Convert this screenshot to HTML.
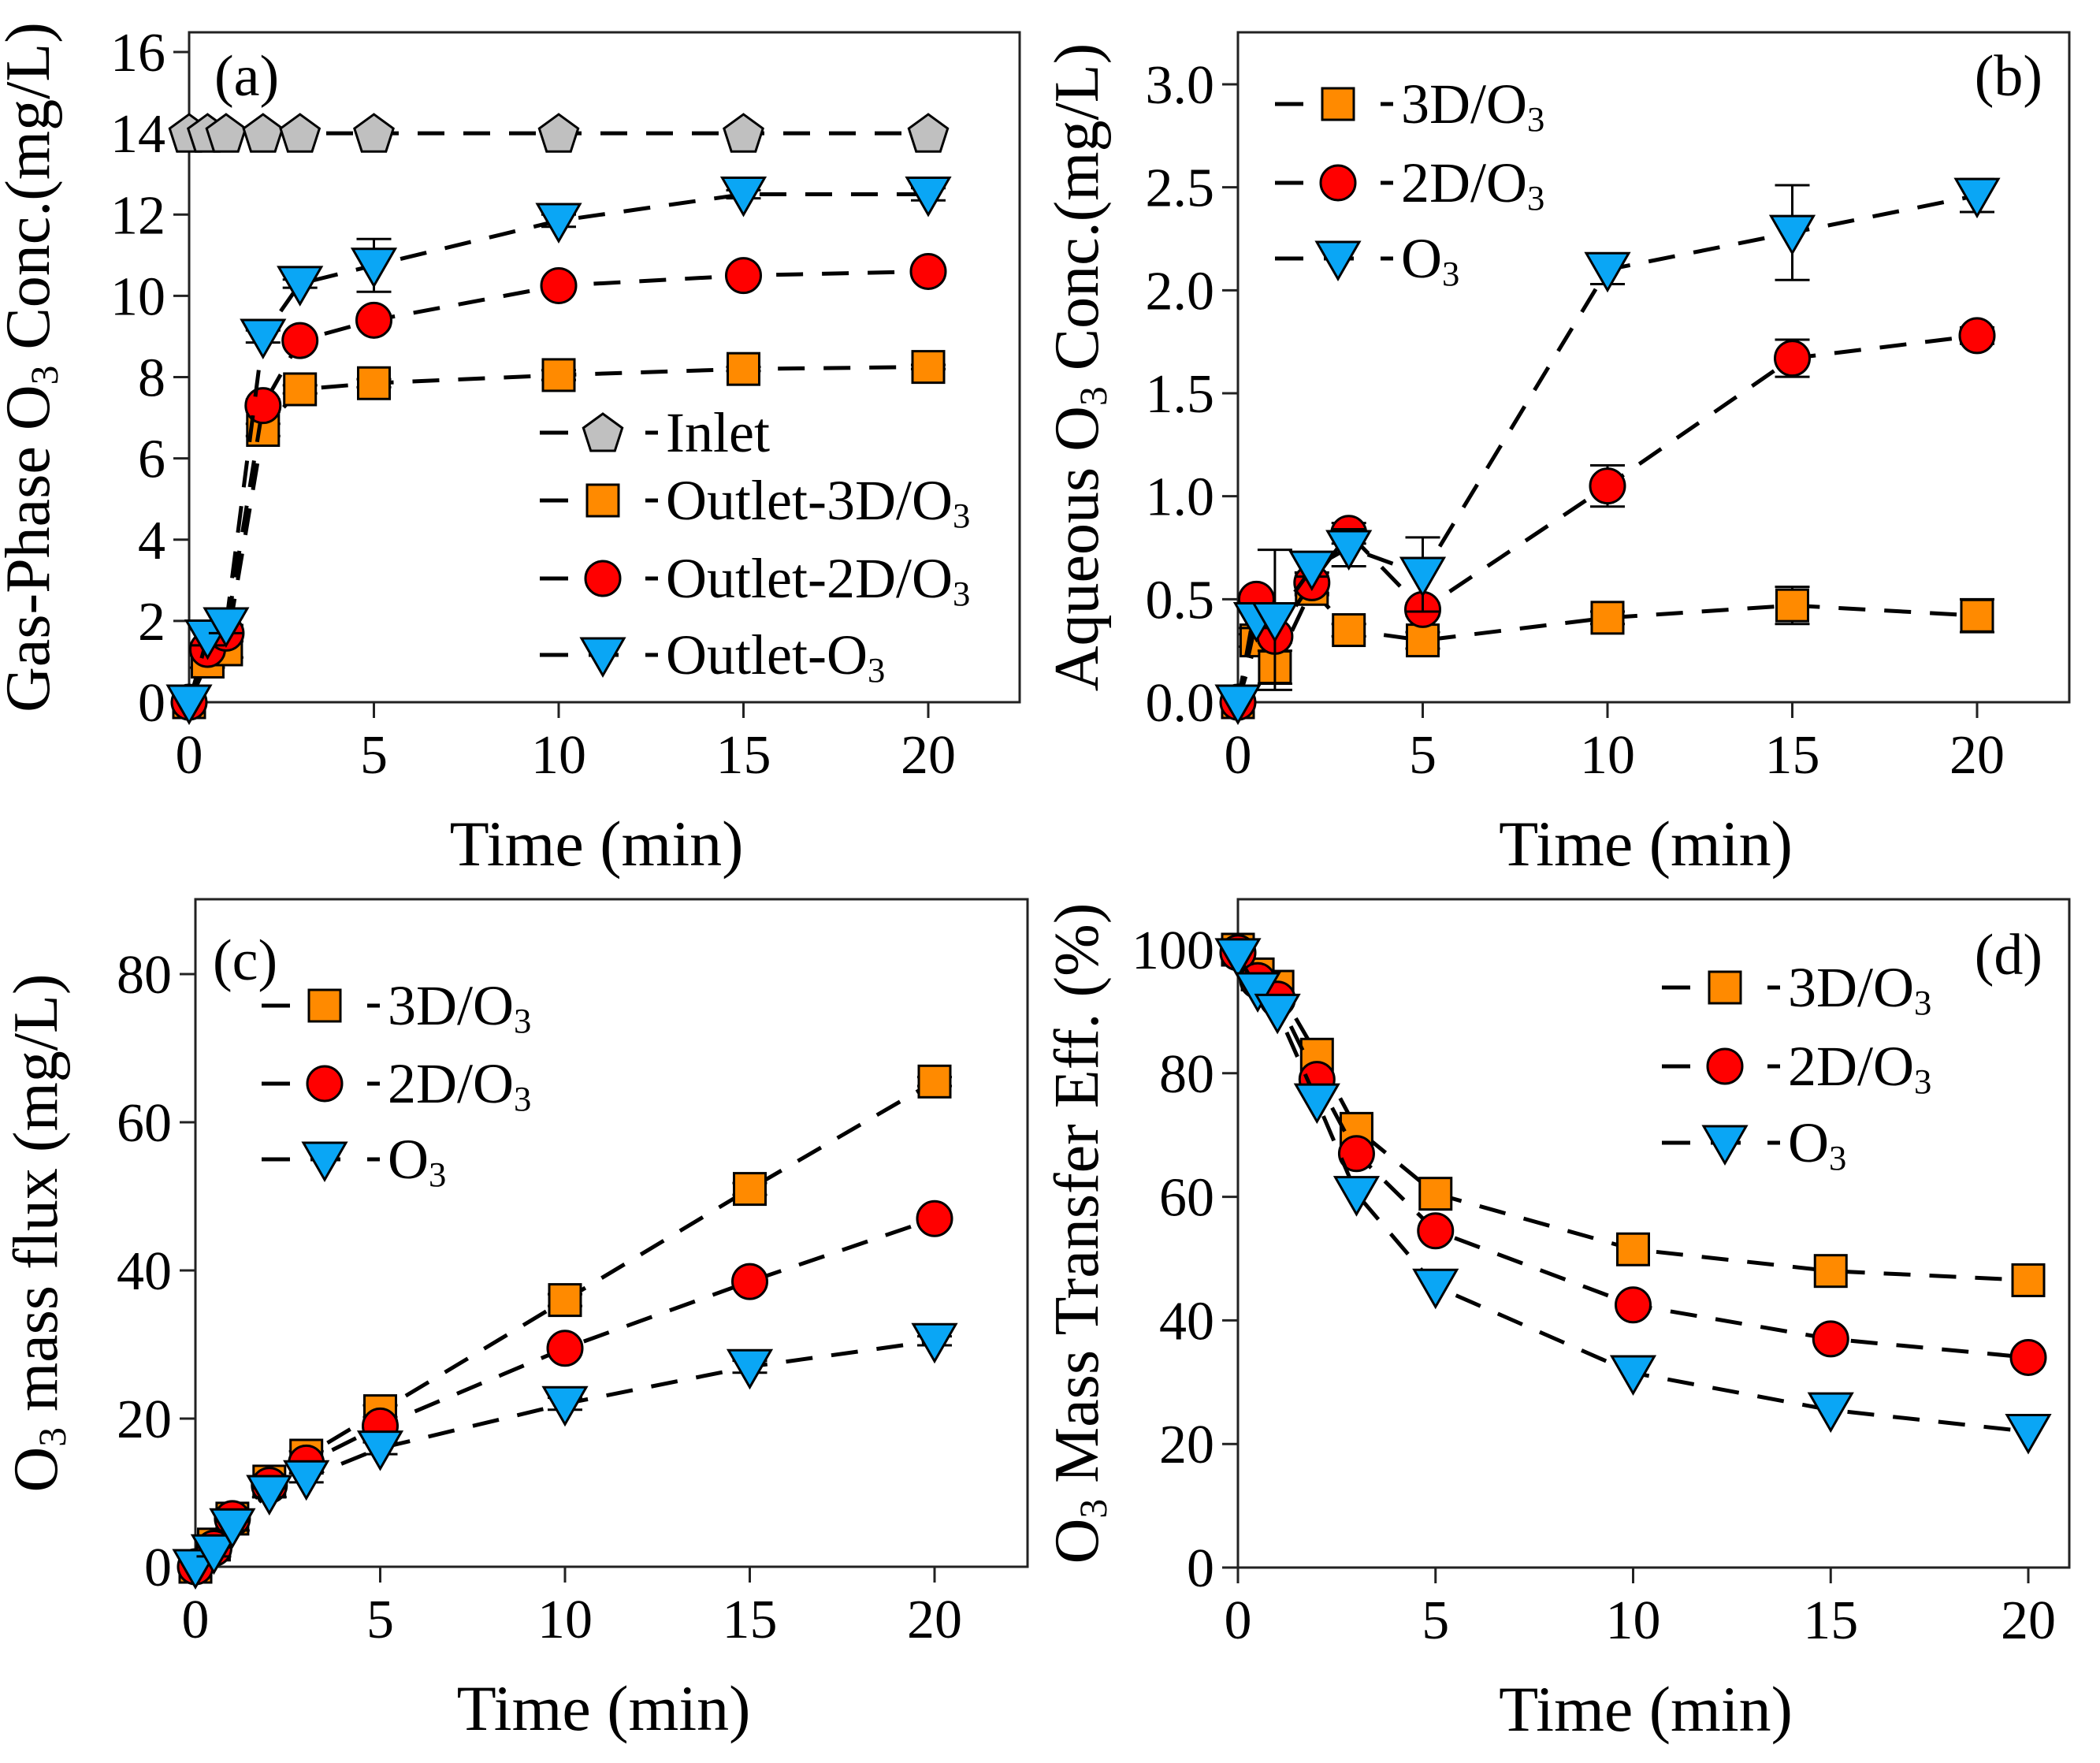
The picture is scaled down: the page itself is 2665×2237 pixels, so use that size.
<!DOCTYPE html>
<html><head><meta charset="utf-8"><style>
html,body{margin:0;padding:0;background:#fff;}
svg{display:block;font-family:"Liberation Serif",serif;}
</style></head><body>
<svg id="fig" width="2665" height="2237" viewBox="0 0 2665 2237" xmlns="http://www.w3.org/2000/svg"></svg>
<script>
const times = [0, 0.5, 1, 2, 3, 5, 10, 15, 20];
// Panel (a) gas-phase
const aInlet = [14, 14, 14, 14, 14, 14, 14, 14, 14];
const a3D = [0, 1.0, 1.3, 6.7, 7.7, 7.85, 8.05, 8.2, 8.25];
const a3DErr = [0, 0.15, 0.2, 0.15, 0.1, 0.1, 0.12, 0.05, 0.05];
const a2D = [0, 1.3, 1.7, 7.3, 8.9, 9.4, 10.25, 10.5, 10.6];
const a2DErr = [0, 0.15, 0.2, 0.15, 0.1, 0.15, 0.1, 0.05, 0.05];
const aO3 = [0, 1.6, 1.9, 9.0, 10.3, 10.75, 11.85, 12.5, 12.5];
const aO3Err = [0, 0.2, 0.2, 0.15, 0.1, 0.65, 0.15, 0.1, 0.15];
const aYTicks = [0, 2, 4, 6, 8, 10, 12, 14, 16];
// Panel (b) aqueous
const b3D = [0, 0.3, 0.17, 0.55, 0.35, 0.3, 0.41, 0.47, 0.42];
const b3DErr = [0, 0.03, 0.08, 0.03, 0.03, 0.04, 0.03, 0.09, 0.08];
const b2D = [0, 0.5, 0.32, 0.58, 0.82, 0.45, 1.05, 1.67, 1.78];
const b2DErr = [0, 0.02, 0.03, 0.05, 0.05, 0.03, 0.1, 0.09, 0.04];
const bO3 = [0, 0.4, 0.4, 0.65, 0.75, 0.62, 2.1, 2.28, 2.46];
const bO3Err = [0, 0.04, 0.34, 0.04, 0.09, 0.18, 0.07, 0.23, 0.08];
const bYTicks = [0, 0.5, 1.0, 1.5, 2.0, 2.5, 3.0];
const bYLabels = ["0.0", "0.5", "1.0", "1.5", "2.0", "2.5", "3.0"];
// Panel (c) mass flux
const c3D = [0, 3, 6.5, 11.5, 15, 21, 36, 51, 65.5];
const c2D = [0, 2.5, 6.5, 11, 14, 19, 29.5, 38.5, 47];
const cO3 = [0, 2, 5.5, 10, 12, 16, 22, 27, 30.5];
const cErr = [0, 0.6, 0.6, 0.6, 0.6, 0.8, 0.8, 0.8, 0.6];
const cYTicks = [0, 20, 40, 60, 80];
// Panel (d) mass transfer efficiency
const d3D = [100, 96, 94, 83, 71, 60.5, 51.5, 48, 46.5];
const d2D = [99.5, 95, 92, 79, 67, 54.5, 42.5, 37, 34];
const dO3 = [99, 93.5, 90, 75.5, 60.5, 45.5, 31.5, 25.5, 22];
const dYTicks = [0, 20, 40, 60, 80, 100];
const xTicks = [0, 5, 10, 15, 20];

const NS = "http://www.w3.org/2000/svg";
const svg = document.getElementById('fig');
const COL = {sq: '#ff8a00', ci: '#ff0000', tri: '#0aa6f5', pent: '#c0c0c0'};

function mk(tag, attrs, parent) {
  const e = document.createElementNS(NS, tag);
  for (const k in attrs) e.setAttribute(k, attrs[k]);
  (parent || svg).appendChild(e);
  return e;
}
function richText(parent, x, y, parts, size, anchor, transform) {
  const t = mk('text', {x: x, y: y, 'font-size': size, 'text-anchor': anchor || 'start', fill: '#000'}, parent);
  if (transform) t.setAttribute('transform', transform);
  parts.forEach(p => {
    const s = document.createElementNS(NS, 'tspan');
    if (p.sub) { s.setAttribute('font-size', size * 0.62); s.setAttribute('baseline-shift', '-22%'); }
    s.textContent = p.t;
    t.appendChild(s);
  });
  return t;
}
function marker(g, type, cx, cy) {
  let e;
  if (type === 'sq') e = mk('rect', {x: cx - 20, y: cy - 20, width: 40, height: 40}, g);
  else if (type === 'ci') e = mk('circle', {cx: cx, cy: cy, r: 22}, g);
  else if (type === 'tri') e = mk('polygon', {points: `${cx-27},${cy-21} ${cx+27},${cy-21} ${cx},${cy+26}`}, g);
  else {
    const pts = [];
    for (let i = 0; i < 5; i++) { const a = -Math.PI / 2 + i * 2 * Math.PI / 5; pts.push((cx + 26 * Math.cos(a)).toFixed(1) + ',' + (cy + 2 + 26 * Math.sin(a)).toFixed(1)); }
    e = mk('polygon', {points: pts.join(' ')}, g);
  }
  e.setAttribute('fill', COL[type]);
  e.setAttribute('stroke', '#000');
  e.setAttribute('stroke-width', 3);
  return e;
}

function panel(cfg) {
  const g = mk('g', {});
  
  
  const X = v => cfg.x0 + (v / 20) * (cfg.x20 - cfg.x0);
  const Y = v => cfg.yb + (v / cfg.yRef) * (cfg.yRefPx - cfg.yb);
  const fr = mk('rect', {x: cfg.L, y: cfg.T, width: cfg.R - cfg.L, height: cfg.yb - cfg.T, fill: 'none', stroke: '#222', 'stroke-width': 3}, g);
  
  
  cfg.yTicks.forEach((v, i) => {
    const y = Y(v);
    mk('line', {x1: cfg.L - 20, x2: cfg.L, y1: y, y2: y, stroke: '#222', 'stroke-width': 3}, g);
    const t = mk('text', {x: cfg.L - 30, y: y + 24, 'font-size': 70, 'text-anchor': 'end'}, g);
    t.textContent = cfg.yLabels ? cfg.yLabels[i] : String(v);
    
    
  });
  xTicks.forEach(v => {
    const x = X(v);
    mk('line', {x1: x, x2: x, y1: cfg.yb, y2: cfg.yb + 20, stroke: '#222', 'stroke-width': 3}, g);
    const t = mk('text', {x: x, y: cfg.yb + 90, 'font-size': 70, 'text-anchor': 'middle'}, g);
    t.textContent = String(v);
    
    
  });
  const xt = richText(g, (cfg.L + cfg.R) / 2 - 10, cfg.yb + 207, [{t: 'Time (min)'}], 82, 'middle');
  
  
  const ycx = cfg.ytX, ycy = (cfg.T + cfg.yb) / 2;
  const yt = richText(g, ycx, ycy, cfg.yTitle, 80, 'middle', `rotate(-90 ${ycx} ${ycy})`);
  
  
  const pl = mk('text', {x: cfg.lab[0], y: cfg.lab[1], 'font-size': 74, 'text-anchor': cfg.lab[2]}, g);
  pl.textContent = cfg.label;
  
  
  cfg.series.forEach(s => {
    const sg = mk('g', {}, g);
    
    
    const pts = times.map((t, i) => X(t).toFixed(1) + ',' + Y(s.vals[i]).toFixed(1)).join(' ');
    const pl2 = mk('polyline', {points: pts, fill: 'none', stroke: '#000', 'stroke-width': 5, 'stroke-dasharray': '34 24'}, sg);
    
    
    times.forEach((t, i) => {
      const cx = X(t), cy = Y(s.vals[i]);
      if (s.err && s.err[i] > 0) {
        const y1 = Y(s.vals[i] + s.err[i]), y2 = Y(s.vals[i] - s.err[i]);
        mk('line', {x1: cx, x2: cx, y1: y1, y2: y2, stroke: '#000', 'stroke-width': 3}, sg);
        mk('line', {x1: cx - 22, x2: cx + 22, y1: y1, y2: y1, stroke: '#000', 'stroke-width': 3}, sg);
        mk('line', {x1: cx - 22, x2: cx + 22, y1: y2, y2: y2, stroke: '#000', 'stroke-width': 3}, sg);
      }
      const m = marker(sg, s.type, cx, cy);
      
      
    });
  });
  cfg.series.forEach((s, i) => {
    const lg = mk('g', {}, g);
    
    
    const y = cfg.legY[i], lx = cfg.legX;
    mk('line', {x1: lx, x2: lx + 36, y1: y, y2: y, stroke: '#000', 'stroke-width': 5}, lg);
    mk('line', {x1: lx + 62, x2: lx + 100, y1: y, y2: y, stroke: '#000', 'stroke-width': 5}, lg);
    mk('line', {x1: lx + 134, x2: lx + 150, y1: y, y2: y, stroke: '#000', 'stroke-width': 5}, lg);
    marker(lg, s.type, lx + 80, y);
    richText(lg, lx + 160, y + 24, s.legend, 72, 'start');
  });
}

const O3 = [{t: 'O'}, {t: '3', sub: true}];
panel({name: 'panel-a-gas-phase', L: 240, R: 1294, T: 41, yb: 891, x0: 240, x20: 1178, yRef: 16, yRefPx: 66,
  yTicks: aYTicks, ytX: 62, label: '(a)', lab: [272, 121, 'start'],
  yTitle: [{t: 'Gas-Phase O'}, {t: '3', sub: true}, {t: ' Conc.(mg/L)'}],
  legX: 685, legY: [549, 635, 734, 831],
  series: [
    {key: 'inlet', type: 'pent', vals: aInlet, err: null, legend: [{t: 'Inlet'}]},
    {key: 'outlet-3d', type: 'sq', vals: a3D, err: a3DErr, legend: [{t: 'Outlet-3D/O'}, {t: '3', sub: true}]},
    {key: 'outlet-2d', type: 'ci', vals: a2D, err: a2DErr, legend: [{t: 'Outlet-2D/O'}, {t: '3', sub: true}]},
    {key: 'outlet-o3', type: 'tri', vals: aO3, err: aO3Err, legend: [{t: 'Outlet-O'}, {t: '3', sub: true}]}
  ]});
panel({name: 'panel-b-aqueous', L: 1571, R: 2626, T: 41, yb: 891, x0: 1571, x20: 2509, yRef: 3, yRefPx: 107,
  yTicks: bYTicks, yLabels: bYLabels, ytX: 1393, label: '(b)', lab: [2592, 121, 'end'],
  yTitle: [{t: 'Aqueous O'}, {t: '3', sub: true}, {t: ' Conc.(mg/L)'}],
  legX: 1618, legY: [132, 232, 328],
  series: [
    {key: '3d-o3', type: 'sq', vals: b3D, err: b3DErr, legend: [{t: '3D/O'}, {t: '3', sub: true}]},
    {key: '2d-o3', type: 'ci', vals: b2D, err: b2DErr, legend: [{t: '2D/O'}, {t: '3', sub: true}]},
    {key: 'o3', type: 'tri', vals: bO3, err: bO3Err, legend: O3}
  ]});
panel({name: 'panel-c-mass-flux', L: 248, R: 1304, T: 1141, yb: 1988, x0: 248, x20: 1186, yRef: 80, yRefPx: 1236,
  yTicks: cYTicks, ytX: 72, label: '(c)', lab: [270, 1243, 'start'],
  yTitle: [{t: 'O'}, {t: '3', sub: true}, {t: ' mass flux (mg/L)'}],
  legX: 332, legY: [1276, 1375, 1471],
  series: [
    {key: '3d-o3', type: 'sq', vals: c3D, err: cErr, legend: [{t: '3D/O'}, {t: '3', sub: true}]},
    {key: '2d-o3', type: 'ci', vals: c2D, err: cErr, legend: [{t: '2D/O'}, {t: '3', sub: true}]},
    {key: 'o3', type: 'tri', vals: cO3, err: cErr, legend: O3}
  ]});
panel({name: 'panel-d-transfer-eff', L: 1571, R: 2626, T: 1141, yb: 1989, x0: 1571, x20: 2574, yRef: 100, yRefPx: 1205,
  yTicks: dYTicks, ytX: 1393, label: '(d)', lab: [2592, 1236, 'end'],
  yTitle: [{t: 'O'}, {t: '3', sub: true}, {t: ' Mass Transfer Eff. (%)'}],
  legX: 2109, legY: [1253, 1353, 1450],
  series: [
    {key: '3d-o3', type: 'sq', vals: d3D, err: null, legend: [{t: '3D/O'}, {t: '3', sub: true}]},
    {key: '2d-o3', type: 'ci', vals: d2D, err: null, legend: [{t: '2D/O'}, {t: '3', sub: true}]},
    {key: 'o3', type: 'tri', vals: dO3, err: null, legend: O3}
  ]});
</script>
</body></html>
